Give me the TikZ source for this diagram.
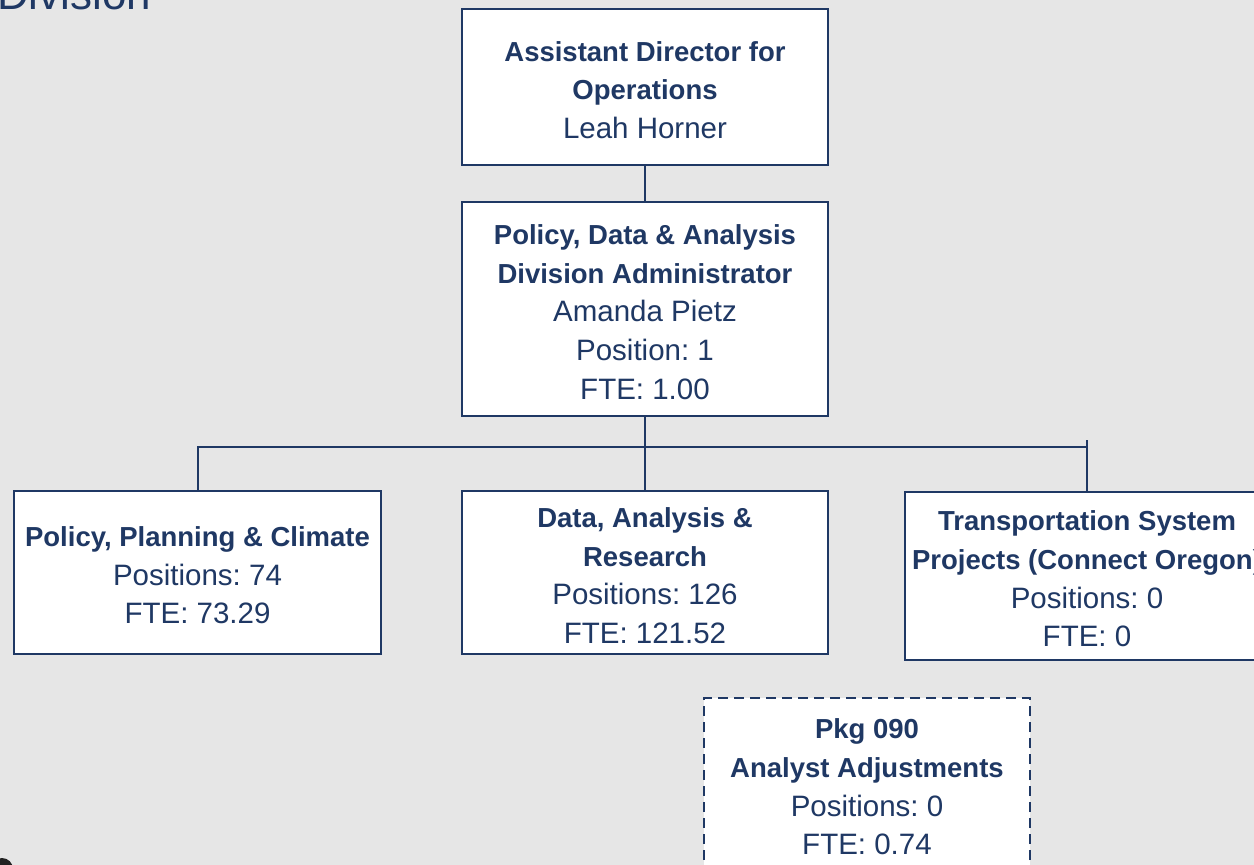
\documentclass[tikz,border=0pt]{standalone}
\usepackage{fontspec}
\setmainfont{Liberation Sans}
\frenchspacing
\definecolor{navy}{HTML}{1F3864}
\definecolor{pagebg}{HTML}{E6E6E6}
\definecolor{inkdark}{HTML}{222222}
% heading line (bold) and detail line (regular) inside the boxes;
% \hdtop is the first heading line, with a taller strut that sets the text a little lower
\newcommand{\hd}[1]{{\fontsize{27.5}{38.6}\selectfont\bfseries #1}}
\newcommand{\hdtop}[1]{{\fontsize{27.5}{38.6}\selectfont\bfseries\rule{0pt}{26pt}#1}}
\newcommand{\tx}[1]{{\fontsize{29.5}{38.6}\selectfont #1}}
\tikzset{
  orgbox/.style={draw=navy, line width=2.5pt, fill=white, text=navy,
    align=center, inner sep=0pt, font=\fontsize{28}{38.6}\selectfont},
  pkgbox/.style={orgbox, dash pattern=on 10pt off 6pt},
  link/.style={draw=navy, line width=2pt},
}
\begin{document}
\begin{tikzpicture}[x=1pt, y=-1pt]
  \fill[pagebg] (0,0) rectangle (1254,865);
  \useasboundingbox (0,0) rectangle (1254,865);
  \clip (0,0) rectangle (1254,865);

  % slide title, cut by the top edge
  \node[anchor=base west, inner sep=0pt, text=navy,
        font=\fontsize{44}{50}\selectfont] (title) at (-3,9) {Division};
  % corner of a dark element at the bottom edge
  \fill[inkdark] (2,869) circle (11);

  \node[orgbox, minimum width=366pt, minimum height=156pt] (ado) at (645,87)
    {\hdtop{Assistant Director for}\\ \hd{Operations}\\ \tx{Leah Horner}};
  \node[orgbox, minimum width=366pt, minimum height=214pt] (pda) at (645,309)
    {\hdtop{Policy, Data \& Analysis}\\ \hd{Division Administrator}\\
     \tx{Amanda Pietz}\\ \tx{Position: 1}\\ \tx{FTE: 1.00}};

  \node[orgbox, minimum width=367pt, minimum height=163pt] (ppc) at (197.5,572.5)
    {\hdtop{Policy, Planning \& Climate}\\ \tx{Positions: 74}\\ \tx{FTE: 73.29}};
  \node[orgbox, minimum width=366pt, minimum height=163pt] (dar) at (645,572.5)
    {\hdtop{Data, Analysis \&}\\ \hd{Research}\\ \tx{Positions: 126}\\ \tx{FTE: 121.52}};
  \node[orgbox, minimum width=364pt, minimum height=168pt] (tsp) at (1087,576)
    {\hdtop{Transportation System}\\ \hd{Projects (Connect Oregon)}\\
     \tx{Positions: 0}\\ \tx{FTE: 0}};

  \node[pkgbox, minimum width=326pt, minimum height=172pt] (pkg) at (867,784)
    {\hdtop{Pkg 090}\\ \hd{Analyst Adjustments}\\ \tx{Positions: 0}\\ \tx{FTE: 0.74}};

  % reporting lines
  \coordinate (bus) at (645,447);
  \coordinate (stub) at (1087,440);
  \draw[link] (ado) -- (pda);
  \draw[link] (pda.south) -- (dar.north);
  \draw[link] (ppc.north) -- (ppc.north |- bus) -- (tsp.north |- bus);
  \draw[link] (stub) -- (tsp.north);
\end{tikzpicture}
\end{document}
